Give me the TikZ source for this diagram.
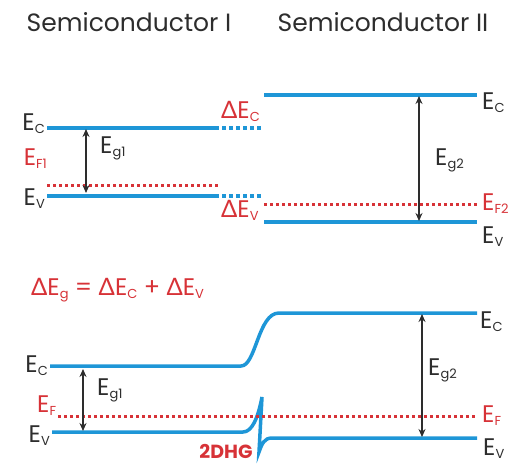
\documentclass[tikz,border=0pt]{standalone}
\usepackage{fontspec}
\setmainfont{Poppins}
\newfontfamily\grk{Lato}
\usetikzlibrary{positioning,arrows.meta}

\definecolor{bandblue}{RGB}{30,150,215}
\definecolor{fermired}{RGB}{215,50,55}
\definecolor{txtgray}{RGB}{45,45,45}

% subscript of an energy level
\newcommand{\lsub}[1]{\raisebox{-3pt}{\fontsize{13}{14}\selectfont #1}}
\newcommand{\dlt}{{\grk Δ}}

\tikzset{
  band/.style={bandblue, line width=3.5pt},
  offset/.style={bandblue, line width=3.5pt, dash pattern=on 4pt off 3pt},
  fermi/.style={fermired, line width=3pt, dash pattern=on 3pt off 3pt},
  gap/.style={txtgray, line width=1.3pt, {Stealth[length=8pt,width=7pt]}-{Stealth[length=8pt,width=7pt]}},
  lbl/.style={txtgray, inner sep=0pt, font=\fontsize{24}{26}\selectfont},
  rlbl/.style={fermired, inner sep=0pt, font=\fontsize{24}{26}\selectfont},
}

\begin{document}
\begin{tikzpicture}[x=1pt,y=-1pt]
    \useasboundingbox (0,0) rectangle (510,464);

    % Titles
    \node[lbl, font=\fontsize{25}{27}\selectfont] (titleI) at (129,22) {Semiconductor I};
    \node[lbl, font=\fontsize{25}{27}\selectfont] (titleII) at (383,22) {Semiconductor II};

    % Semiconductor I, apart
    \coordinate (c1a) at (47,128);  \coordinate (c1b) at (219,128); \coordinate (c1c) at (262,128);
    \coordinate (v1a) at (47,196);  \coordinate (v1b) at (219,196); \coordinate (v1c) at (262,196);
    \coordinate (f1a) at (47,185);  \coordinate (f1b) at (220,185);
    \coordinate (g1t) at (86,129);  \coordinate (g1b) at (86,193);
    \draw[band] (c1a) -- (c1b);
    \draw[offset] (c1b) ++(3,0) coordinate (c1d) -- (c1c);
    \draw[band] (v1a) -- (v1b);
    \draw[offset] (v1b) ++(3,0) coordinate (v1d) -- (v1c);
    \draw[fermi] (f1a) -- (f1b);
    \draw[gap] (g1t) -- (g1b);

    \node[lbl, anchor=base east] (ec1) at (45,130) {E\lsub{C}};
    \node[rlbl, anchor=base east] (ef1) at (47,165) {E\lsub{F1}};
    \node[lbl, anchor=base east] (ev1) at (45,205) {E\lsub{V}};
    \node[lbl, anchor=base west] (eg1) at (100,153) {E\lsub{g1}};
    \node[rlbl, anchor=base west] (dec) at (221,118) {\dlt E\lsub{C}};
    \node[rlbl, anchor=base west] (dev) at (221,217) {\dlt E\lsub{V}};

    % Semiconductor II, apart
    \coordinate (c2a) at (264,95);  \coordinate (c2b) at (477,95);
    \coordinate (v2a) at (264,222); \coordinate (v2b) at (477,222);
    \coordinate (f2a) at (264,204); \coordinate (f2b) at (477,204);
    \coordinate (g2t) at (419,96);  \coordinate (g2b) at (419,221);
    \draw[band] (c2a) -- (c2b);
    \draw[band] (v2a) -- (v2b);
    \draw[fermi] (f2a) -- (f2b);
    \draw[gap] (g2t) -- (g2b);

    \node[lbl, anchor=base west] (ec2) at (482,109) {E\lsub{C}};
    \node[rlbl, anchor=base west] (ef2) at (482,210) {E\lsub{F2}};
    \node[lbl, anchor=base west] (ev2) at (482,243) {E\lsub{V}};
    \node[lbl, anchor=base west] (eg2) at (435,165) {E\lsub{g2}};

    % Band offset
    \node[rlbl, anchor=base west] (offsets) at (31,295)
        {\dlt E\lsub{g} = \dlt E\lsub{C} + \dlt E\lsub{V}};

    % Heterojunction
    \coordinate (c3a) at (50,366);  \coordinate (c3b) at (241,366);
    \coordinate (c3c) at (279,313); \coordinate (c3d) at (477,313);
    \coordinate (v3a) at (52,432);  \coordinate (v3b) at (243,432);
    \coordinate (v3p) at (262,397); \coordinate (v3q) at (259,452);
    \coordinate (v3c) at (272,438); \coordinate (v3d) at (477,438);
    \coordinate (f3a) at (58,416);  \coordinate (f3b) at (477,416);
    \coordinate (g3t) at (83,369);  \coordinate (g3b) at (83,431);
    \coordinate (g4t) at (422,314); \coordinate (g4b) at (422,437);
    \draw[band] (c3a) -- (c3b) .. controls (256,366) and (258,313) .. (c3c) -- (c3d);
    \draw[band, line join=miter] (v3a) -- (v3b) .. controls (252,432) and (258,418) .. (v3p)
        -- (v3q) .. controls (262,444) and (264,438) .. (v3c) -- (v3d);
    \draw[fermi] (f3a) -- (f3b);
    \draw[gap] (g3t) -- (g3b);
    \draw[gap] (g4t) -- (g4b);

    \node[lbl, anchor=base east] (ec3) at (48,372) {E\lsub{C}};
    \node[rlbl, anchor=base west] (ef3) at (37,412) {E\lsub{F}};
    \node[lbl, anchor=base east] (ev3) at (50,442) {E\lsub{V}};
    \node[lbl, anchor=base west] (eg3) at (97,395) {E\lsub{g1}};
    \node[lbl, anchor=base west] (ec4) at (480,328) {E\lsub{C}};
    \node[rlbl, anchor=base west] (ef4) at (482,422) {E\lsub{F}};
    \node[lbl, anchor=base west] (ev4) at (483,455) {E\lsub{V}};
    \node[lbl, anchor=base west] (eg4) at (428,375) {E\lsub{g2}};
    \node[fermired, inner sep=0pt, font=\fontsize{19}{20}\selectfont\bfseries, anchor=base] (hole) at (226,458) {2DHG};
\end{tikzpicture}
\end{document}
